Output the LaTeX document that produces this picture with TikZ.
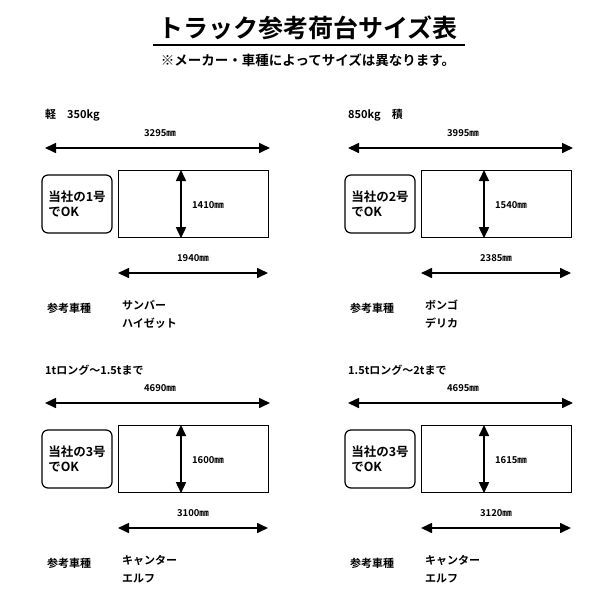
\documentclass[tikz,border=0pt]{standalone}
\usepackage{fontspec}
\setmainfont{Noto Sans CJK JP}[BoldFont={Noto Sans CJK JP Bold}]
\usetikzlibrary{arrows.meta}

\begin{document}
\begin{tikzpicture}[x=1pt,y=-1pt,
  dim/.style={line width=1.6pt, {Triangle[length=11pt,width=10pt]}-{Triangle[length=11pt,width=10pt]}},
  lbl/.style={font=\bfseries\fontsize{9.5}{10}\selectfont, inner sep=0pt},
  okbox/.style={draw, line width=1.2pt, rounded corners=6pt, minimum width=70pt, minimum height=58pt, align=left, font=\bfseries\fontsize{12.5}{15}\selectfont},
  bed/.style={draw, line width=1.2pt}]

\useasboundingbox (0,0) rectangle (614,614);

%─────────────
% Title
%─────────────
\node[font=\bfseries\fontsize{25}{27}\selectfont] (title) at (308,28) {トラック参考荷台サイズ表};
\draw[line width=1.6pt] (153,45) -- (465,45);
\node[font=\bfseries\fontsize{13.5}{14}\selectfont] (sub) at (308,60) {※メーカー・車種によってサイズは異なります。};

%─────────────
% One panel: dx, dy, heading, length, width, depth, number, car 1, car 2
%─────────────
\newcommand{\bedPanel}[9]{%
  \begin{scope}[shift={(#1,#2)}]
    \node[lbl, anchor=west, font=\bfseries\fontsize{11}{12}\selectfont] (head) at (45,115) {#3};
    \coordinate (tl) at (45,148);
    \coordinate (tr) at (270,148);
    \draw[dim] (tl) -- (tr);
    \node[lbl] (len) at (160,133) {#4};
    \node[okbox] (ok) at (77,204) {当社の#7号\\でOK};
    \node[bed, minimum width=150pt, minimum height=67pt, anchor=north west] (bed) at (118,170) {};
    \draw[dim] ([xshift=63pt]bed.north west) -- ([xshift=63pt]bed.south west);
    \node[lbl] (dep) at (208,205) {#6};
    \coordinate (bl) at (118,273);
    \coordinate (br) at (268,273);
    \draw[dim] (bl) -- (br);
    \node[lbl] (wid) at (193,258) {#5};
    \node[lbl, anchor=west, font=\bfseries\fontsize{11}{12}\selectfont] (kind) at (47,308) {参考車種};
    \node[lbl, anchor=north west, align=left, font=\bfseries\fontsize{11}{18}\selectfont] (cars) at (122,300) {#8\\#9};
  \end{scope}
}

\bedPanel{0}{0}{軽\quad 350kg}{3295㎜}{1940㎜}{1410㎜}{1}{サンバー}{ハイゼット}
\bedPanel{303}{0}{850kg\quad 積}{3995㎜}{2385㎜}{1540㎜}{2}{ボンゴ}{デリカ}
\bedPanel{0}{255}{1tロング～1.5tまで}{4690㎜}{3100㎜}{1600㎜}{3}{キャンター}{エルフ}
\bedPanel{303}{255}{1.5tロング～2tまで}{4695㎜}{3120㎜}{1615㎜}{3}{キャンター}{エルフ}
\end{tikzpicture}
\end{document}
